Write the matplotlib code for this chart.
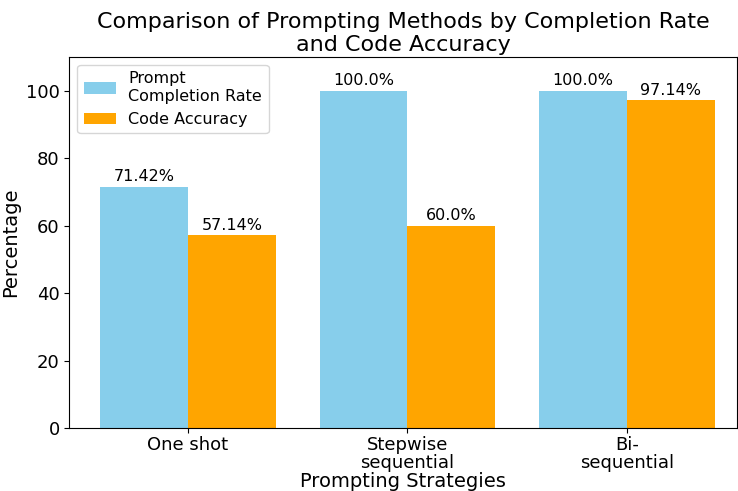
import numpy as np
import matplotlib.pyplot as plt

# data
strategies = ['One shot', 'Stepwise\nsequential', 'Bi-\nsequential']
completion_rate = [71.42, 100.0, 100.0]
code_accuracy = [57.14, 60.0, 97.14]

x = np.arange(len(strategies))
width = 0.4

fig = plt.figure(figsize=(7.38, 4.91), dpi=100)
ax = fig.add_axes([0.094, 0.128, 0.904, 0.756])

b1 = ax.bar(x - width / 2, completion_rate, width, color='skyblue', label='Prompt\nCompletion Rate')
b2 = ax.bar(x + width / 2, code_accuracy, width, color='orange', label='Code Accuracy')

# 顶部加数字
for bars, vals in ((b1, completion_rate), (b2, code_accuracy)):
    for rect, v in zip(bars, vals):
        ax.text(rect.get_x() + rect.get_width() / 2, v + 0.8, str(v) + '%',
                ha='center', va='bottom', fontsize=11.5)

ax.set_xlim(-0.54, 2.5)
ax.set_ylim(0, 110)
ax.set_xticks(x)
ax.set_xticklabels(strategies, fontsize=13, linespacing=1.05)
ax.tick_params(axis='x', pad=2)
ax.tick_params(axis='y', labelsize=13)
ax.set_xlabel('Prompting Strategies', fontsize=14, labelpad=0)
ax.set_ylabel('Percentage', fontsize=14)
ax.set_title('Comparison of Prompting Methods by Completion Rate\nand Code Accuracy', fontsize=16, pad=4)
ax.legend(loc='upper left', fontsize=11.5)

fig.savefig('out.png', dpi=100)
